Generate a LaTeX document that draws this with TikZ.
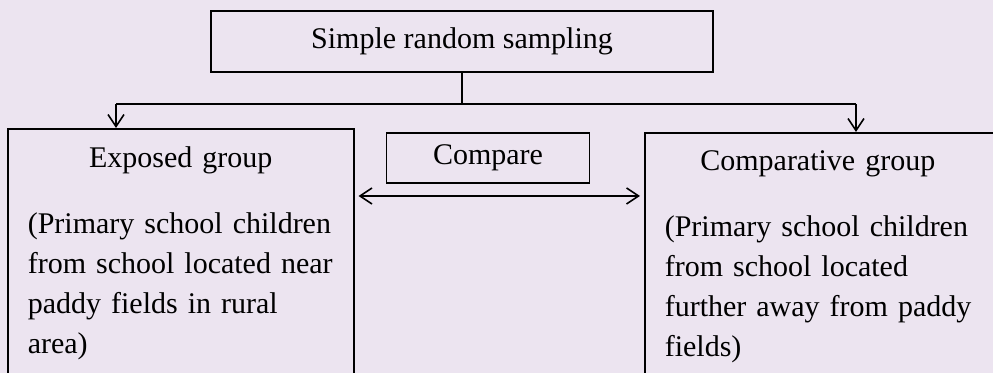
\documentclass[tikz,border=0pt]{standalone}
\usepackage{fontspec}
\setmainfont{Liberation Serif}
\usepackage{tikz}
\usetikzlibrary{arrows.meta}
\definecolor{pagebg}{RGB}{236,228,240}
\newcommand{\lowstrut}{\rule[-16pt]{0pt}{1pt}}

\begin{document}
\begin{tikzpicture}[x=0.5pt,y=0.5pt,yscale=-1,
    boxtext/.style={font=\fontsize{15pt}{20pt}\selectfont},
    framebox/.style={boxtext, draw, line width=0.8pt, inner sep=0pt},
    groupbox/.style={boxtext, draw, line width=0.8pt, anchor=north west, align=left, inner xsep=10pt, inner ysep=9pt},
    barb/.style={-{Straight Barb[length=6pt,width=8pt]}, line width=0.8pt}]
    %set page size 993 x 373, lavender scan background
    \useasboundingbox[fill=pagebg] (0,0) rectangle (993,373);
    \clip (0,0) rectangle (993,373);

    % Text Node
    \node[framebox, minimum width=251pt, minimum height=30.5pt] (sampling) at (462,41.5) {Simple random sampling};
    % Text Node
    \node[framebox, minimum width=101.5pt, minimum height=25pt] (compare) at (488,158) {Compare};
    % Text Node
    \node[groupbox, text width=153pt] (exposed) at (7,128) {\makebox[153pt]{Exposed group}\\[13pt]
        (Primary school children\\ from school located near\\ paddy fields in rural\\ area)\lowstrut};
    % Text Node
    \node[groupbox, text width=160pt] (comparative) at (644,132) {\makebox[153pt]{Comparative group}\\[13pt]
        (Primary school children\\ from school located\\ further away from paddy\\ fields)\lowstrut};

    %Straight Lines
    \coordinate (splitL) at (116,104);
    \coordinate (splitR) at (856,104);
    \coordinate (cmpy) at (0,196);
    \draw[line width=0.8pt] (sampling.south) -- (sampling.south |- splitL);
    \draw[line width=1.4pt] (splitL) -- (splitR);
    \draw[barb] (splitL) -- (splitL |- exposed.north);
    \draw[barb] (splitR) -- (splitR |- comparative.north);
    \draw[{Straight Barb[length=6pt,width=8pt]}-{Straight Barb[length=6pt,width=8pt]}, line width=0.8pt, shorten <=2pt, shorten >=2pt] (exposed.east |- cmpy) -- (comparative.west |- cmpy);
\end{tikzpicture}
\end{document}
